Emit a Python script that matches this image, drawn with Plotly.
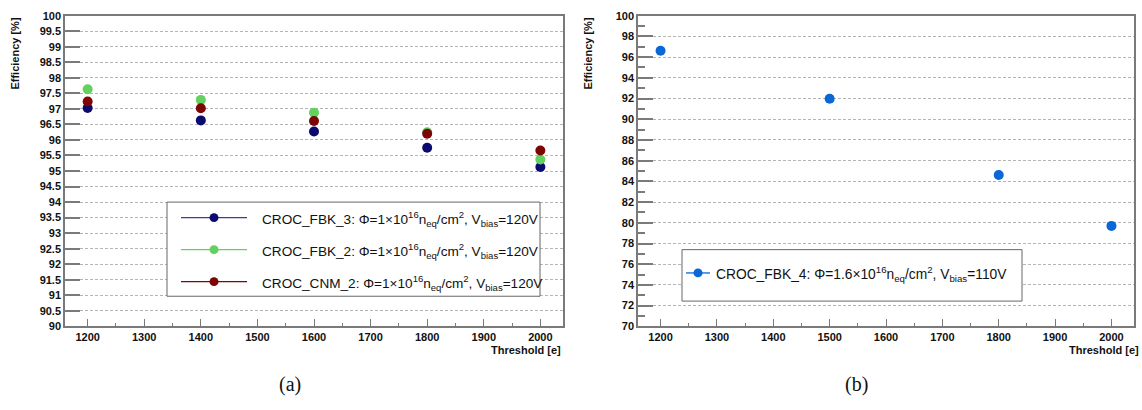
import plotly.graph_objects as go

# ---- data -------------------------------------------------------------
thresholds_a = [1200, 1400, 1600, 1800, 2000]
eff_fbk3 = [97.03, 96.63, 96.27, 95.75, 95.13]
eff_fbk2 = [97.63, 97.29, 96.88, 96.25, 95.37]
eff_cnm2 = [97.24, 97.02, 96.61, 96.20, 95.66]

thresholds_b = [1200, 1500, 1800, 2000]
eff_fbk4 = [96.62, 91.98, 84.62, 79.70]

names_a = ["CROC_FBK_3", "CROC_FBK_2", "CROC_CNM_2"]
colors_a = ["#0b0a6e", "#63d15f", "#7c0505"]
legend_line_a = ["#3b3b98", "#63d15f", "#7c0505"]
name_b = "CROC_FBK_4"
color_b = "#0a67d6"

label_a = "{}: Φ=1×10<sup>16</sup>n<sub>eq</sub>/cm<sup>2</sup>, V<sub>bias</sub>=120V"
label_b = "{}: Φ=1.6×10<sup>16</sup>n<sub>eq</sub>/cm<sup>2</sup>, V<sub>bias</sub>=110V"

W, H = 1142, 410
FONT = "Liberation Sans"
FRAME = "#7a7a7a"
GRID = "#b4b4b4"

fig = go.Figure()

series_a = [eff_fbk3, eff_fbk2, eff_cnm2]
for name, ys, col in zip(names_a, series_a, colors_a):
    fig.add_trace(go.Scatter(x=thresholds_a, y=ys, mode="markers", name=name,
                             marker=dict(color=col, size=10, line=dict(width=0)),
                             xaxis="x", yaxis="y", showlegend=False))

fig.add_trace(go.Scatter(x=thresholds_b, y=eff_fbk4, mode="markers", name=name_b,
                         marker=dict(color=color_b, size=10, line=dict(width=0)),
                         xaxis="x2", yaxis="y2", showlegend=False))


def px_x(p):
    return p / W


def px_y(p):
    return 1 - p / H


dom_y = [px_y(330), px_y(10)]
tick_font = dict(family=FONT, size=11, color="#111", weight="bold")

common_x = dict(range=[1160, 2040], tickmode="linear", tick0=1200, dtick=100,
                ticks="inside", ticklen=8, tickcolor=FRAME, tickwidth=1,
                minor=dict(ticks="inside", ticklen=4, dtick=50, tick0=1200,
                           tickcolor=FRAME, showgrid=False),
                showline=True, linecolor=FRAME, linewidth=1.5, mirror=True,
                showgrid=False, zeroline=False, tickfont=tick_font)

common_y = dict(ticks="inside", ticklen=15, tickcolor=FRAME, tickwidth=1.5,
                showline=True, linecolor=FRAME, linewidth=1.5, mirror=True,
                showgrid=True, gridcolor=GRID, griddash="3px,2px", gridwidth=1,
                zeroline=False, tickfont=tick_font)

fig.update_layout(
    width=W, height=H,
    margin=dict(l=0, r=0, t=0, b=0),
    paper_bgcolor="white", plot_bgcolor="white",
    xaxis=dict(domain=[px_x(65), px_x(563)], anchor="y", **common_x),
    yaxis=dict(domain=dom_y, anchor="x", range=[90, 100], tickmode="linear",
               tick0=90, dtick=0.5, **common_y),
    xaxis2=dict(domain=[px_x(638), px_x(1134)], anchor="y2", **common_x),
    yaxis2=dict(domain=dom_y, anchor="x2", range=[70, 100], tickmode="linear",
                tick0=70, dtick=2,
                minor=dict(ticks="inside", ticklen=7, dtick=1, tick0=70,
                           tickcolor=FRAME, showgrid=False),
                **common_y),
    showlegend=False,
)

shapes = []
annotations = []

# axis titles
for xc in (15, 588):
    annotations.append(dict(text="<b>Efficiency [%]</b>", x=px_x(xc), y=px_y(49),
                            xref="paper", yref="paper", showarrow=False,
                            textangle=-90, font=dict(family=FONT, size=11, color="#111"),
                            xanchor="center", yanchor="middle"))
for xr in (563, 1141):
    annotations.append(dict(text="<b>Threshold [e]</b>", x=px_x(xr), y=px_y(354),
                            xref="paper", yref="paper", showarrow=False,
                            font=dict(family=FONT, size=11, color="#111"),
                            xanchor="right", yanchor="middle"))

# panel captions
for xc, cap in ((290, "(a)"), (856, "(b)")):
    annotations.append(dict(text=cap, x=px_x(xc), y=px_y(390), xref="paper", yref="paper",
                            showarrow=False, font=dict(family="Liberation Serif", size=20,
                                                       color="#111"),
                            xanchor="center", yanchor="middle"))

# legend of panel (a)
shapes.append(dict(type="rect", xref="paper", yref="paper",
                   x0=px_x(167), x1=px_x(540), y0=px_y(299), y1=px_y(202),
                   line=dict(color="#666", width=1), fillcolor="white", layer="above"))
rows_a = [218, 251, 284]
for name, col, lcol, yr in zip(names_a, colors_a, legend_line_a, rows_a):
    shapes.append(dict(type="line", xref="paper", yref="paper",
                       x0=px_x(181), x1=px_x(247), y0=px_y(yr), y1=px_y(yr),
                       line=dict(color=lcol, width=1.3), layer="above"))
    shapes.append(dict(type="circle", xref="paper", yref="paper",
                       x0=px_x(209.5), x1=px_x(218.5), y0=px_y(yr + 4.5), y1=px_y(yr - 4.5),
                       line=dict(width=0), fillcolor=col, layer="above"))
    annotations.append(dict(text=label_a.format(name), x=px_x(260), y=px_y(yr + 1),
                            xref="paper", yref="paper", showarrow=False,
                            font=dict(family=FONT, size=13.6, color="#111"),
                            xanchor="left", yanchor="middle"))

# legend of panel (b)
shapes.append(dict(type="rect", xref="paper", yref="paper",
                   x0=px_x(682), x1=px_x(1022), y0=px_y(304), y1=px_y(251),
                   line=dict(color="#666", width=1), fillcolor="white", layer="above"))
yb = 275
shapes.append(dict(type="line", xref="paper", yref="paper",
                   x0=px_x(686), x1=px_x(710), y0=px_y(yb), y1=px_y(yb),
                   line=dict(color=color_b, width=1.3), layer="above"))
shapes.append(dict(type="circle", xref="paper", yref="paper",
                   x0=px_x(693.5), x1=px_x(702.5), y0=px_y(yb + 4.5), y1=px_y(yb - 4.5),
                   line=dict(width=0), fillcolor=color_b, layer="above"))
annotations.append(dict(text=label_b.format(name_b), x=px_x(714), y=px_y(yb + 1),
                        xref="paper", yref="paper", showarrow=False,
                        font=dict(family=FONT, size=13.8, color="#111"),
                        xanchor="left", yanchor="middle"))

fig.update_layout(shapes=shapes, annotations=annotations)

fig.write_html("out.html")
